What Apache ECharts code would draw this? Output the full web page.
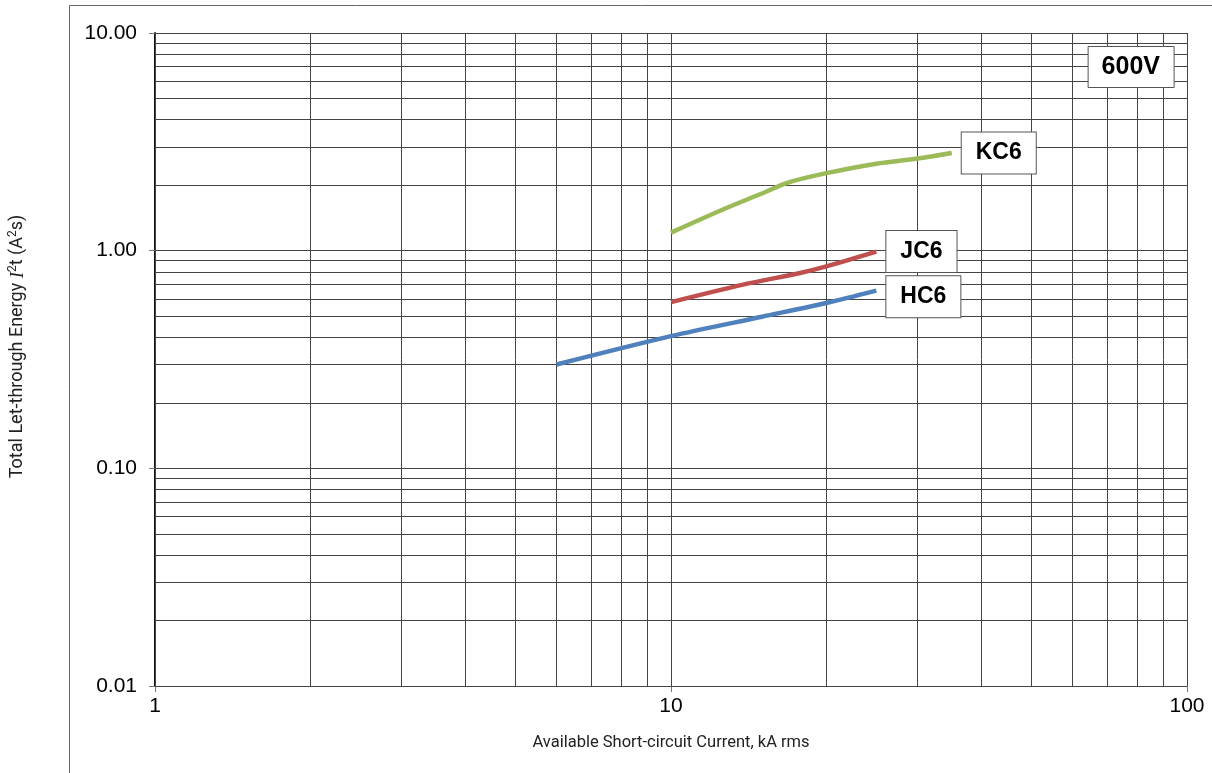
<!DOCTYPE html>
<html>
<head>
<meta charset="utf-8">
<script src="https://cdn.jsdelivr.net/npm/echarts@6/dist/echarts.min.js"></script>
<style>
  html, body { margin: 0; padding: 0; background: #fff; }
  #chart { width: 1212px; height: 773px; }
</style>
</head>
<body>
<div id="chart"></div>
<script>
// 数据 (kA rms, A²s)
const hc6X = [6, 10, 15, 20, 25]
const hc6Y = [0.3, 0.405, 0.497, 0.575, 0.655]
const jc6X = [10, 13.8, 17.8, 20, 25]
const jc6Y = [0.58, 0.698, 0.79, 0.847, 0.99]
const kc6X = [10, 12.8, 15, 16.8, 20, 25, 30, 35]
const kc6Y = [1.21, 1.57, 1.83, 2.05, 2.27, 2.51, 2.65, 2.81]
// 网格线位置
const xGridValues = [1, 2, 3, 4, 5, 6, 7, 8, 9, 10, 20, 30, 40, 50, 60, 70, 80, 90, 100]
const yGridValues = [0.01, 0.02, 0.03, 0.04, 0.05, 0.06, 0.07, 0.08, 0.09,
  0.1, 0.2, 0.3, 0.4, 0.5, 0.6, 0.7, 0.8, 0.9,
  1, 2, 3, 4, 5, 6, 7, 8, 9, 10]

const pairs = (xs, ys) => xs.map((x, i) => [x, ys[i]])

const myChart = echarts.init(document.getElementById("chart"))

const labelFont = "'Liberation Sans', Arial, sans-serif"
const nameFont = "'Liberation Sans Narrow', Roboto, sans-serif"

// 曲线末端标签框
const endLabel = (offsetY) => ({
  show: true,
  formatter: "{a}",
  color: "#000",
  fontFamily: labelFont,
  fontWeight: "bold",
  fontSize: 23,
  backgroundColor: "#fff",
  borderColor: "#555",
  borderWidth: 1,
  padding: [9, 14, 9, 14],
  distance: 10,
  offset: [0, offsetY],
})

const option = {
  animation: false,
  title: {
    text: "600V",
    right: 38,
    top: 46,
    backgroundColor: "#fff",
    borderColor: "#555",
    borderWidth: 1,
    padding: [9, 14, 8, 14],
    textStyle: {
      fontFamily: labelFont,
      fontWeight: "bold",
      fontSize: 25,
      color: "#000",
    },
  },
  graphic: [
    {
      type: "rect",
      shape: { x: 69.5, y: 5.5, width: 1200, height: 820 },
      style: { fill: "none", stroke: "#666", lineWidth: 1 },
      z: 0,
    },
  ],
  grid: {
    left: 155,
    right: 25,
    top: 33,
    bottom: 87,
    outerBoundsMode: "none",
    containLabel: false,
  },
  xAxis: {
    type: "log",
    logBase: 10,
    min: 1,
    max: 100,
    name: "Available Short-circuit Current, kA rms",
    nameLocation: "middle",
    nameGap: 48,
    nameTextStyle: {
      fontFamily: nameFont,
      fontSize: 16.5,
      color: "#222",
    },
    axisLine: { show: true, lineStyle: { color: "#777", width: 1 } },
    axisTick: { show: true, length: 6, lineStyle: { color: "#777" } },
    axisLabel: {
      color: "#000",
      fontFamily: labelFont,
      fontSize: 21,
      margin: 10,
    },
    splitLine: { show: false },
  },
  yAxis: {
    type: "log",
    logBase: 10,
    min: 0.01,
    max: 10,
    name: "Total Let-through Energy {i|I}{sup|2}t (A{sup|2}s)",
    nameLocation: "middle",
    nameGap: 127,
    nameTextStyle: {
      fontFamily: nameFont,
      fontSize: 18,
      color: "#222",
      padding: [0, 0, 0, 26],
      rich: {
        i: {
          fontFamily: "'Liberation Serif', serif",
          fontStyle: "italic",
          fontSize: 19,
          color: "#222",
        },
        sup: {
          fontFamily: nameFont,
          fontSize: 12,
          color: "#222",
          padding: [0, 0, 9, 0],
        },
      },
    },
    axisLine: { show: true, lineStyle: { color: "#111", width: 2 } },
    axisTick: { show: true, length: 6, lineStyle: { color: "#777" } },
    axisLabel: {
      color: "#000",
      fontFamily: labelFont,
      fontSize: 21,
      margin: 18,
      formatter: (v) => v.toFixed(2),
    },
    splitLine: { show: false },
  },
  series: [
    {
      // 网格线
      type: "line",
      data: [],
      silent: true,
      z: 1,
      markLine: {
        silent: true,
        symbol: "none",
        animation: false,
        label: { show: false },
        lineStyle: { color: "#444", width: 1, type: "solid" },
        data: xGridValues.map((v) => ({ xAxis: v }))
          .concat(yGridValues.map((v) => ({ yAxis: v }))),
      },
    },
    {
      name: "KC6",
      type: "line",
      data: pairs(kc6X, kc6Y),
      smooth: 0.3,
      showSymbol: false,
      z: 5,
      lineStyle: { color: "#9bbb59", width: 4.5 },
      itemStyle: { color: "#9bbb59" },
      endLabel: endLabel(0),
    },
    {
      name: "JC6",
      type: "line",
      data: pairs(jc6X, jc6Y),
      smooth: 0.3,
      showSymbol: false,
      z: 5,
      lineStyle: { color: "#c0504d", width: 4.5 },
      itemStyle: { color: "#c0504d" },
      endLabel: endLabel(0),
    },
    {
      name: "HC6",
      type: "line",
      data: pairs(hc6X, hc6Y),
      smooth: 0.3,
      showSymbol: false,
      z: 5,
      lineStyle: { color: "#4f81bd", width: 4.5 },
      itemStyle: { color: "#4f81bd" },
      endLabel: endLabel(6),
    },
  ],
}

myChart.setOption(option)
</script>
</body>
</html>
